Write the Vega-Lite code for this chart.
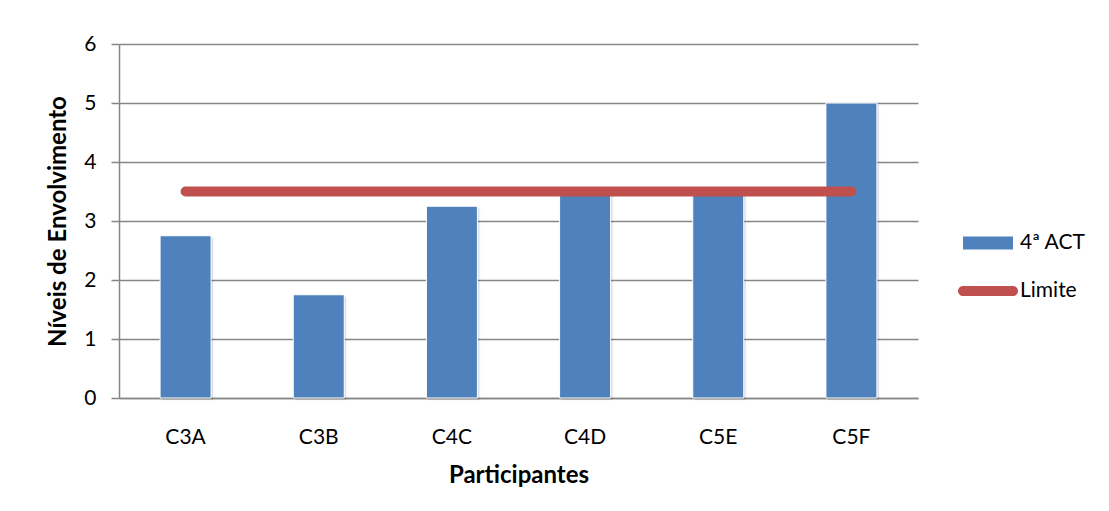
{
  "$schema": "https://vega.github.io/schema/vega-lite/v6.json",
  "width": 799,
  "height": 354,
  "autosize": {"type": "none"},
  "padding": {"left": 119, "top": 44, "right": 191, "bottom": 113},
  "background": "white",
  "config": {
    "font": "Lato",
    "view": {"stroke": null},
    "axis": {
      "domainColor": "#868686",
      "domainWidth": 1.5,
      "gridColor": "#868686",
      "gridWidth": 1.5,
      "tickColor": "#868686",
      "tickWidth": 1.5,
      "labelColor": "#000000",
      "titleColor": "#000000",
      "labelFont": "Lato",
      "titleFont": "Lato",
      "labelFontSize": 21,
      "titleFontSize": 24,
      "titleFontWeight": "bold"
    },
    "legend": {
      "labelFont": "Lato",
      "labelFontSize": 21,
      "labelColor": "#000000",
      "padding": 0,
      "titlePadding": 0
    }
  },
  "data": {
    "values": [
      {"participante": "C3A", "nivel": 2.75, "limite": 3.5, "serie": "4ª ACT", "linha": "Limite"},
      {"participante": "C3B", "nivel": 1.75, "limite": 3.5, "serie": "4ª ACT", "linha": "Limite"},
      {"participante": "C4C", "nivel": 3.25, "limite": 3.5, "serie": "4ª ACT", "linha": "Limite"},
      {"participante": "C4D", "nivel": 3.5, "limite": 3.5, "serie": "4ª ACT", "linha": "Limite"},
      {"participante": "C5E", "nivel": 3.5, "limite": 3.5, "serie": "4ª ACT", "linha": "Limite"},
      {"participante": "C5F", "nivel": 5, "limite": 3.5, "serie": "4ª ACT", "linha": "Limite"}
    ]
  },
  "encoding": {
    "x": {
      "field": "participante",
      "type": "nominal",
      "sort": null,
      "scale": {"paddingInner": 0.617, "paddingOuter": 0.3085},
      "axis": {
        "title": "Participantes",
        "labelAngle": 0,
        "ticks": false,
        "tickSize": 0,
        "labelPadding": 28,
        "titlePadding": 16,
        "grid": false
      }
    }
  },
  "layer": [
    {
      "mark": {"type": "bar", "color": "#000000", "opacity": 0.12, "xOffset": 2, "yOffset": 2, "stroke": "#000000", "strokeOpacity": 0.06, "strokeWidth": 4},
      "encoding": {
        "y": {"field": "nivel", "type": "quantitative"}
      }
    },
    {
      "mark": {"type": "bar", "stroke": "#ffffff", "strokeWidth": 1},
      "encoding": {
        "y": {
          "field": "nivel",
          "type": "quantitative",
          "scale": {"domain": [0, 6], "nice": false},
          "axis": {
            "title": "Níveis de Envolvimento",
            "values": [0, 1, 2, 3, 4, 5, 6],
            "format": "d",
            "tickSize": 8,
            "labelPadding": 15,
            "titlePadding": 13
          }
        },
        "fill": {
          "field": "serie",
          "type": "nominal",
          "scale": {"range": ["#4f81bd"]},
          "legend": {
            "title": null,
            "orient": "none",
            "legendX": 844,
            "legendY": 174,
            "symbolType": "M-1,-0.26H1V0.26H-1Z",
            "symbolSize": 2500,
            "symbolStrokeWidth": 0,
            "symbolOpacity": 1,
            "labelOffset": 7
          }
        }
      }
    },
    {
      "mark": {"type": "line", "strokeWidth": 10, "strokeCap": "round"},
      "encoding": {
        "y": {"field": "limite", "type": "quantitative"},
        "stroke": {
          "field": "linha",
          "type": "nominal",
          "scale": {"range": ["#c0504d"]},
          "legend": {
            "title": null,
            "orient": "none",
            "legendX": 839,
            "legendY": 217,
            "symbolType": "M-0.83,-0.17H0.83A0.17,0.17 0 0 1 0.83,0.17H-0.83A0.17,0.17 0 0 1 -0.83,-0.17Z",
            "symbolSize": 3600,
            "symbolFillColor": "#c0504d",
            "symbolStrokeWidth": 0,
            "labelOffset": 2
          }
        }
      }
    }
  ]
}
